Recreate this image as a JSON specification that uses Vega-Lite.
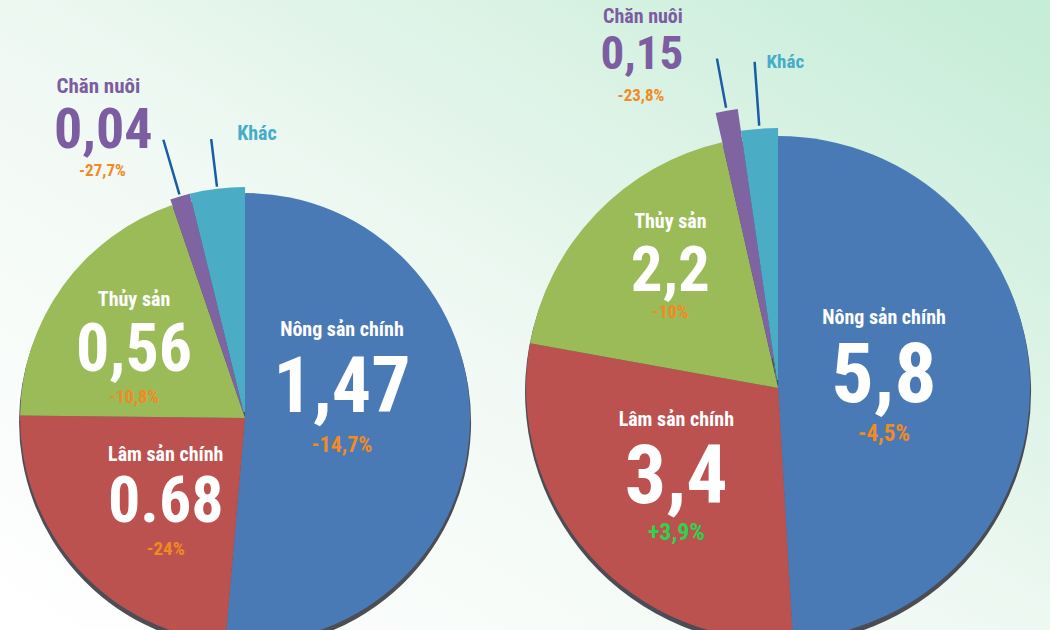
{
  "$schema": "https://vega.github.io/schema/vega-lite/v6.json",
  "width": 1050,
  "height": 630,
  "autosize": "none",
  "padding": 0,
  "background": "#ffffff",
  "config": {
    "view": {"stroke": null},
    "text": {"font": "Roboto Condensed, Liberation Sans Narrow, Roboto, sans-serif", "fontWeight": "bold"}
  },
  "datasets": {
    "pies": [
      {"pie": "A", "order": 1, "cat": "Nông sản chính", "value": 1.47, "label": "1,47", "change": "-14,7%"},
      {"pie": "A", "order": 2, "cat": "Lâm sản chính", "value": 0.68, "label": "0.68", "change": "-24%"},
      {"pie": "A", "order": 3, "cat": "Thủy sản", "value": 0.56, "label": "0,56", "change": "-10,8%"},
      {"pie": "A", "order": 4, "cat": "Chăn nuôi", "value": 0.04, "label": "0,04", "change": "-27,7%"},
      {"pie": "A", "order": 5, "cat": "Khác", "value": 0.11, "label": "", "change": ""},
      {"pie": "B", "order": 1, "cat": "Nông sản chính", "value": 5.8, "label": "5,8", "change": "-4,5%"},
      {"pie": "B", "order": 2, "cat": "Lâm sản chính", "value": 3.4, "label": "3,4", "change": "+3,9%"},
      {"pie": "B", "order": 3, "cat": "Thủy sản", "value": 2.2, "label": "2,2", "change": "-10%"},
      {"pie": "B", "order": 4, "cat": "Chăn nuôi", "value": 0.15, "label": "0,15", "change": "-23,8%"},
      {"pie": "B", "order": 5, "cat": "Khác", "value": 0.27, "label": "", "change": ""}
    ]
  },
  "layer": [
    {
      "data": {"values": [{}]},
      "mark": {
        "type": "rect",
        "fill": {
          "gradient": "linear", "x1": 0, "y1": 1, "x2": 1, "y2": 0,
          "stops": [
            {"offset": 0, "color": "#ffffff"},
            {"offset": 0.45, "color": "#f1f9f4"},
            {"offset": 1, "color": "#c4ecd6"}
          ]
        }
      },
      "encoding": {}
    },
    {
      "data": {"name": "pies"},
      "transform": [{"filter": "datum.pie == 'A'"}],
      "encoding": {
        "x": {"field": "pie", "type": "nominal", "scale": {"type": "point", "padding": 0.485, "align": 0.474}, "axis": null},
        "y": {"field": "pie", "type": "nominal", "scale": {"type": "point", "padding": 0, "range": [418, 388]}, "axis": null},
        "theta": {"field": "value", "type": "quantitative", "stack": "normalize"},
        "order": {"field": "order", "type": "quantitative"}
      },
      "layer": [
        {"mark": {"type": "arc", "radius": 226, "fill": "#22202c", "opacity": 0.8, "yOffset": 4}},
        {
          "mark": {"type": "arc", "radius": 225},
          "encoding": {
            "color": {"field": "cat", "type": "nominal", "legend": null,
              "scale": {"domain": ["Nông sản chính", "Lâm sản chính", "Thủy sản", "Chăn nuôi", "Khác"], "range": ["#4A7AB6", "#BC524F", "#9BBB59", "#8064A2", "#4BACC6"]}},
            "opacity": {"condition": {"test": "datum.order >= 4", "value": 0}, "value": 1}
          }
        },
        {
          "mark": {"type": "arc", "radius": 231, "radius2": 6},
          "encoding": {
            "color": {"field": "cat", "type": "nominal", "legend": null},
            "opacity": {"condition": {"test": "datum.order >= 4", "value": 1}, "value": 0}
          }
        },
        {
          "mark": {"type": "arc", "radius": {"expr": "datum.order == 4 ? 290 : 281"}, "radius2": 233, "padAngle": 0.4, "fillOpacity": 0, "stroke": "#1a5ca6", "strokeWidth": 2.5},
          "encoding": {"strokeOpacity": {"condition": {"test": "datum.order >= 4", "value": 1}, "value": 0}}
        },
        {
          "mark": {"type": "text", "baseline": "middle",
            "radius": {"expr": "[97,107,137,290,281][datum.order-1]"},
            "dx": {"expr": "[0,0,0,-65,26][datum.order-1]"},
            "dy": {"expr": "[-92,-35,-38,-53,-5][datum.order-1]"},
            "align": {"expr": "datum.order == 5 ? 'left' : 'center'"},
            "fontSize": {"expr": "[20,20,20,21,20][datum.order-1]"}},
          "encoding": {
            "text": {"field": "cat"},
            "color": {"condition": [{"test": "datum.order == 4", "value": "#7C5DA1"}, {"test": "datum.order == 5", "value": "#45ADC8"}], "value": "#ffffff"}
          }
        },
        {
          "mark": {"type": "text", "baseline": "middle", "align": "center",
            "radius": {"expr": "[97,107,137,290,281][datum.order-1]"},
            "dx": {"expr": "[0,0,0,-60,0][datum.order-1]"},
            "dy": {"expr": "[-33,13,13,-9,0][datum.order-1]"},
            "fontSize": {"expr": "[78,64,66,56,10][datum.order-1]"}},
          "encoding": {
            "text": {"field": "label"},
            "color": {"condition": {"test": "datum.order == 4", "value": "#7C5DA1"}, "value": "#ffffff"}
          }
        },
        {
          "mark": {"type": "text", "baseline": "middle", "align": "center",
            "radius": {"expr": "[97,107,137,290,281][datum.order-1]"},
            "dx": {"expr": "[0,0,0,-61,0][datum.order-1]"},
            "dy": {"expr": "[23,59,60,31,0][datum.order-1]"},
            "fontSize": {"expr": "[22,19,18,17,10][datum.order-1]"}},
          "encoding": {
            "text": {"field": "change"},
            "color": {"condition": {"test": "indexof(datum.change, '+') == 0", "value": "#2FD24F"}, "value": "#F28A22"}
          }
        }
      ]
    },
    {
      "data": {"name": "pies"},
      "transform": [{"filter": "datum.pie == 'B'"}],
      "encoding": {
        "x": {"field": "pie", "type": "nominal", "scale": {"type": "point", "padding": 0.485, "align": 0.474}, "axis": null},
        "y": {"field": "pie", "type": "nominal", "scale": {"type": "point", "padding": 0, "range": [418, 388]}, "axis": null},
        "theta": {"field": "value", "type": "quantitative", "stack": "normalize"},
        "order": {"field": "order", "type": "quantitative"}
      },
      "layer": [
        {"mark": {"type": "arc", "radius": 253, "fill": "#22202c", "opacity": 0.8, "yOffset": 4}},
        {
          "mark": {"type": "arc", "radius": 252},
          "encoding": {
            "color": {"field": "cat", "type": "nominal", "legend": null},
            "opacity": {"condition": {"test": "datum.order >= 4", "value": 0}, "value": 1}
          }
        },
        {
          "mark": {"type": "arc", "radius": {"expr": "datum.order == 4 ? 282 : 260"}, "radius2": {"expr": "datum.order == 4 ? 30 : 8"}},
          "encoding": {
            "color": {"field": "cat", "type": "nominal", "legend": null},
            "opacity": {"condition": {"test": "datum.order >= 4", "value": 1}, "value": 0}
          }
        },
        {
          "mark": {"type": "arc", "radius": {"expr": "datum.order == 4 ? 335 : 327"}, "radius2": {"expr": "datum.order == 4 ? 285 : 263"}, "padAngle": 0.4, "fillOpacity": 0, "stroke": "#1a5ca6", "strokeWidth": 2.5},
          "encoding": {"strokeOpacity": {"condition": {"test": "datum.order >= 4", "value": 1}, "value": 0}}
        },
        {
          "mark": {"type": "text", "baseline": "middle",
            "radius": {"expr": "[106,136,149,335,327][datum.order-1]"},
            "dx": {"expr": "[0,0,0,-74,12][datum.order-1]"},
            "dy": {"expr": "[-67,-58,-63,-42,0][datum.order-1]"},
            "align": {"expr": "datum.order == 5 ? 'left' : 'center'"},
            "fontSize": {"expr": "[20,20,20,20,19][datum.order-1]"}},
          "encoding": {
            "text": {"field": "cat"},
            "color": {"condition": [{"test": "datum.order == 4", "value": "#7C5DA1"}, {"test": "datum.order == 5", "value": "#45ADC8"}], "value": "#ffffff"}
          }
        },
        {
          "mark": {"type": "text", "baseline": "middle", "align": "center",
            "radius": {"expr": "[106,136,149,335,327][datum.order-1]"},
            "dx": {"expr": "[0,0,0,-75,0][datum.order-1]"},
            "dy": {"expr": "[-8,0,-13,-4,0][datum.order-1]"},
            "fontSize": {"expr": "[84,82,63,47,10][datum.order-1]"}},
          "encoding": {
            "text": {"field": "label"},
            "color": {"condition": {"test": "datum.order == 4", "value": "#7C5DA1"}, "value": "#ffffff"}
          }
        },
        {
          "mark": {"type": "text", "baseline": "middle", "align": "center",
            "radius": {"expr": "[106,136,149,335,327][datum.order-1]"},
            "dx": {"expr": "[0,0,0,-76,0][datum.order-1]"},
            "dy": {"expr": "[49,55,28,37,0][datum.order-1]"},
            "fontSize": {"expr": "[23,24,18,17,10][datum.order-1]"}},
          "encoding": {
            "text": {"field": "change"},
            "color": {"condition": {"test": "indexof(datum.change, '+') == 0", "value": "#2FD24F"}, "value": "#F28A22"}
          }
        }
      ]
    }
  ]
}
